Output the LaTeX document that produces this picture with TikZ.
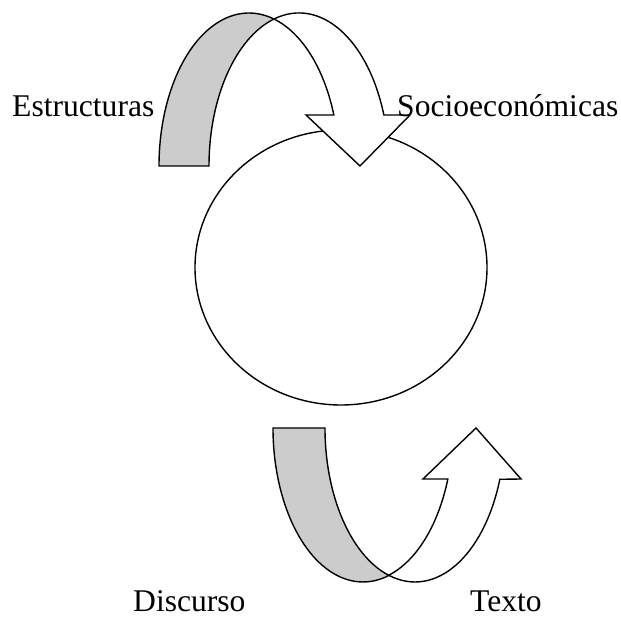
\documentclass[tikz,border=0pt]{standalone}
\usepackage{fontspec}
\setmainfont{Liberation Serif}
\usetikzlibrary{shapes.geometric}

\begin{document}
\begin{tikzpicture}[
  x=1pt, y=1pt,
  band/.style={draw=black, line width=1.4pt, line join=miter},
  back/.style={band, fill=gray!40},
  front/.style={band, fill=white},
  circ/.style={ellipse, draw, line width=1.4pt, minimum width=292pt,
               minimum height=275pt, inner sep=0pt},
  lbl/.style={font=\fontsize{31.6}{38}\selectfont, inner sep=0pt, anchor=base west}
]
\useasboundingbox (0,0) rectangle (621,620);

\node[circ] (centro) at (341,352.5) {};

% upper arrow
\draw[back] (159,454) arc[start angle=180, end angle=73.87, x radius=90, y radius=153]
  arc[start angle=106.13, end angle=180, x radius=90, y radius=153] -- cycle;
\draw[front] (274,601) arc[start angle=106.13, end angle=19.47, x radius=90, y radius=153]
  -- (410,505) -- (360,454) -- (306,505) -- (333.85,505)
  arc[start angle=19.47, end angle=73.87, x radius=90, y radius=153] -- cycle;

% lower arrow
\draw[back] (273,192) arc[start angle=180, end angle=286.79, x radius=90, y radius=154]
  arc[start angle=253.21, end angle=180, x radius=90, y radius=154] -- cycle;
\draw[front] (389,44.6) arc[start angle=253.21, end angle=340.53, x radius=90, y radius=154]
  -- (521,141) -- (476,192) -- (423,141) -- (447.85,141)
  arc[start angle=340.53, end angle=286.79, x radius=90, y radius=154] -- cycle;

\node[lbl] (estr) at (12,503) {Estructuras};
\node[lbl] (socio) at (397,503) {Socioeconómicas};
\node[lbl] (disc) at (133,8) {Discurso};
\node[lbl] (texto) at (470,8) {Texto};
\end{tikzpicture}
\end{document}
